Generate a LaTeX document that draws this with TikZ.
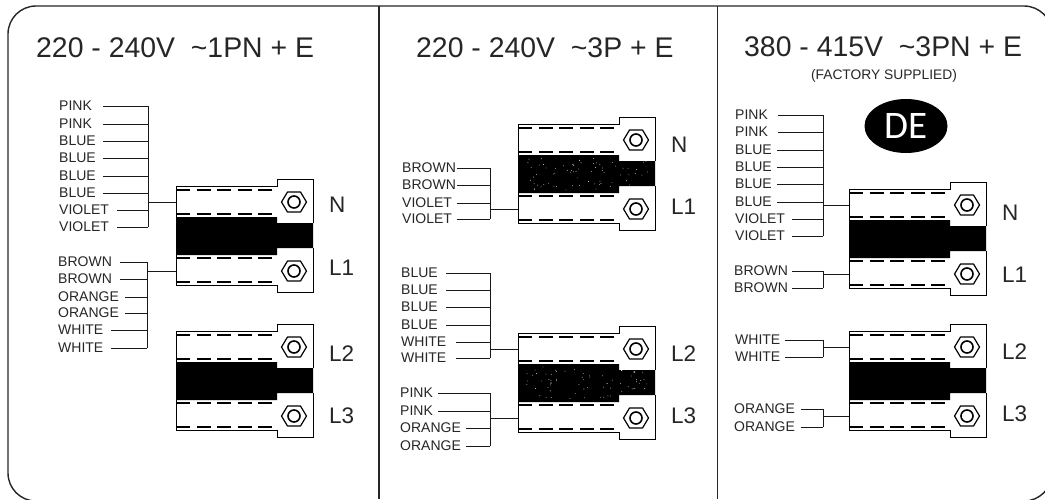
\documentclass[tikz,border=0pt]{standalone}
\usepackage{fontspec}
\usetikzlibrary{shapes.geometric}
\setmainfont{Liberation Sans}
\newfontfamily\defont{Carlito}
\newcommand{\tld}{\char"7E }
\tikzset{
  frameline/.style={line width=1.4pt,black!85},
  wire/.style={line width=1.0pt,black!90},
  wirelab/.style={anchor=west,inner sep=0pt,text=black!85,font=\fontsize{14}{14}\selectfont},
  titlelab/.style={anchor=west,inner sep=0pt,text=black!85,font=\fontsize{28.4}{29}\selectfont},
  termlab/.style={anchor=west,inner sep=0pt,text=black!85,font=\fontsize{22.5}{24}\selectfont},
  bodyline/.style={line width=1.0pt,black},
  dashline/.style={line width=2pt,black,dash pattern=on 14pt off 6.5pt},
  portbox/.style={inner sep=0pt,minimum width=101pt,minimum height=24pt},
}
\newcommand{\terminal}[5]{% id x y labeltop labelbottom
  \begin{scope}[shift={(#2,#3)}]
    \fill[black] (0,38) -- (101,38) -- (101,44) -- (137,44) -- (137,69) -- (101,69) -- (101,76) -- (0,76) -- cycle;
    \draw[bodyline] (0,38) -- (0,7) -- (101,7) -- (101,0) -- (137,0) -- (137,44);
    \draw[bodyline] (0,76) -- (0,106) -- (101,106) -- (101,113) -- (137,113) -- (137,69);
    \foreach \dy in {11,35,79,103}{\draw[dashline] (0,\dy) -- (101,\dy);}
    \foreach \hy in {23,92}{
      \begin{scope}[shift={(118,\hy)}]
        \draw[line width=1.2pt,line join=round] (-12.5,0) -- (-6.5,-10) -- (6.5,-10) -- (12.5,0) -- (6.5,10) -- (-6.5,10) -- cycle;
        \draw[line width=1.6pt] (0,0) circle (6);
      \end{scope}
    }
    \node[portbox] (#1a) at (50.5,23) {};
    \node[portbox] (#1b) at (50.5,92) {};
    \node[termlab] (#1la) at (153,#4) {\csname lab#1a\endcsname};
    \node[termlab] (#1lb) at (153,#5) {\csname lab#1b\endcsname};
  \end{scope}
}
\newcommand{\speck}[2]{% x y of terminal : speckle in the band
  \begin{scope}[shift={(#1,#2)}]
    \foreach \i in {1,...,70}{
      \pgfmathsetmacro{\px}{8+rnd*122}
      \pgfmathsetmacro{\py}{41+rnd*32}
      \fill[white] (\px,\py) circle (0.4);
    }
  \end{scope}
}
\newcommand{\labs}[3]{\expandafter\def\csname lab#1a\endcsname{#2}\expandafter\def\csname lab#1b\endcsname{#3}}
\newcommand{\wirerows}[3]{% label x, bus x, list
  \foreach \wn/\wt/\wy/\ws in {#3}{
    \node[wirelab] (\wn) at (#1,\wy) {\wt};
    \coordinate (\wn s) at (\ws,\wy);
    \coordinate (\wn e) at (#2,\wy);
    \draw[wire] (\wn s) -- (\wn e);
  }
}
\begin{document}
\begin{tikzpicture}[x=1pt,y=-1pt]
\pgfmathsetseed{42}
\useasboundingbox (0,0) rectangle (1045,499);
\clip (0,0) rectangle (1045,499);
\fill[white] (0,0) rectangle (1045,499);
% frame
\node[draw,frameline,rounded corners=28pt,minimum width=1044pt,minimum height=495pt,inner sep=0pt] (frame) at (530,253.5) {};
\coordinate (d1t) at (379,6); \coordinate (d1b) at (379,499);
\coordinate (d2t) at (717,6); \coordinate (d2b) at (717,499);
\draw[line width=1.2pt,black!85] (d1t) -- (d1b);
\draw[line width=1.0pt,black!85] (d2t) -- (d2b);
% titles
\node[titlelab] (title1) at (36,48) {220 - 240V\ \ \tld 1PN + E};
\node[titlelab] (title2) at (416,48) {220 - 240V\ \ \tld 3P + E};
\node[titlelab] (title3) at (744,47) {380 - 415V\ \ \tld 3PN + E};
\node[inner sep=0pt,text=black!85,font=\fontsize{13.8}{14}\selectfont] (factory) at (884,76) {(FACTORY SUPPLIED)};
\node[ellipse,fill=black,minimum width=83pt,minimum height=54pt,inner sep=0pt,text=white,font=\defont\fontsize{39}{39}\selectfont] (de) at (906,126) {DE};
% terminals
\labs{A}{N}{L1}\terminal{A}{176}{179}{26}{89}
\labs{B}{L2}{L3}\terminal{B}{176}{324}{30}{92}
\labs{C}{N}{L1}\terminal{C}{518}{117}{28}{90}
\labs{D}{L2}{L3}\terminal{D}{518}{326}{28}{90}
\labs{E}{N}{L1}\terminal{E}{849}{182}{31}{93}
\labs{F}{L2}{L3}\terminal{F}{849}{324}{28}{90}
\speck{518}{117}\speck{518}{326}
% panel 1
\wirerows{59}{148}{p1/PINK/106/103,p2/PINK/124/103,p3/BLUE/141/103,p4/BLUE/158/103,p5/BLUE/176/103,p6/BLUE/193/103,p7/VIOLET/210/117,p8/VIOLET/227/117}
\draw[wire] (p1e) -- (p8e);
\draw[wire] (Aa.west -| p1e) -- (Aa.west);
\wirerows{58}{147}{q1/BROWN/262/120,q2/BROWN/279/120,q3/ORANGE/297/125,q4/ORANGE/313/125,q5/WHITE/330/111,q6/WHITE/348/111}
\draw[wire] (q1e) -- (q6e);
\draw[wire] (Ab.west -| q1e) -- (Ab.west);
% panel 2
\wirerows{402}{490}{r1/BROWN/168/457,r2/BROWN/185/457,r3/VIOLET/203/457,r4/VIOLET/219/457}
\draw[wire] (r1e) -- (r4e);
\draw[wire] (Cb.west -| r1e) -- (Cb.west);
\wirerows{401}{490}{s1/BLUE/273/446,s2/BLUE/290/446,s3/BLUE/307/446,s4/BLUE/325/446,s5/WHITE/342/456,s6/WHITE/358/456}
\draw[wire] (s1e) -- (s6e);
\draw[wire] (Da.west -| s1e) -- (Da.west);
\wirerows{400}{490}{t1/PINK/393/438,t2/PINK/411/438,t3/ORANGE/428/466,t4/ORANGE/446/466}
\draw[wire] (t1e) -- (t4e);
\draw[wire] (Db.west -| t1e) -- (Db.west);
% panel 3
\wirerows{735}{823}{u1/PINK/115/778,u2/PINK/132/778,u3/BLUE/150/777,u4/BLUE/167/777,u5/BLUE/184/777,u6/BLUE/202/777,u7/VIOLET/219/792,u8/VIOLET/236/792}
\draw[wire] (u1e) -- (u8e);
\draw[wire] (Ea.west -| u1e) -- (Ea.west);
\wirerows{734}{823}{v1/BROWN/271/792,v2/BROWN/288/792}
\draw[wire] (v1e) -- (v2e);
\draw[wire] (Eb.west -| v1e) -- (Eb.west);
\wirerows{735}{823}{w1/WHITE/340/785,w2/WHITE/357/785}
\draw[wire] (w1e) -- (w2e);
\draw[wire] (Fa.west -| w1e) -- (Fa.west);
\wirerows{734}{823}{x1/ORANGE/409/801,x2/ORANGE/427/801}
\draw[wire] (x1e) -- (x2e);
\draw[wire] (Fb.west -| x1e) -- (Fb.west);
\end{tikzpicture}
\end{document}
